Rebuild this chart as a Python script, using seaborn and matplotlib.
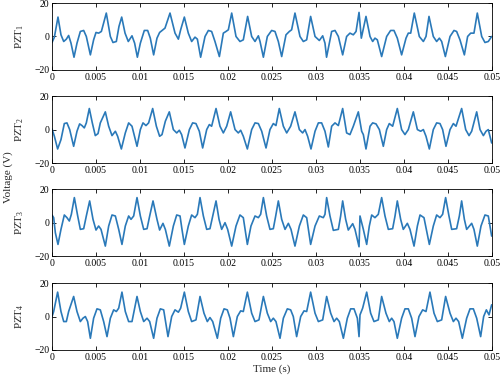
import numpy as np
import pandas as pd
import matplotlib
matplotlib.use("Agg")
import matplotlib.pyplot as plt
import seaborn as sns

# ---- data (time in ms, voltage in V) ----
t1 = [0.00,0.27,0.68,1.02,1.33,1.63,1.89,2.16,2.50,2.84,3.22,3.60,3.90,4.36,4.73,5.00,5.30,5.61,6.17,6.63,6.93,7.31,7.61,7.92,8.30,8.67,9.09,9.39,9.70,10.04,10.49,10.87,11.17,11.55,11.93,12.23,
      12.84,13.41,13.98,14.36,14.62,15.04,15.49,15.87,16.25,16.52,16.89,17.39,17.77,18.14,18.52,19.02,19.47,19.77,20.04,20.42,20.91,21.36,21.74,22.23,22.69,23.07,23.45,23.64,24.02,24.47,24.96,25.34,25.72,26.10,26.59,26.97,27.23,27.61,28.18,28.56,28.94,29.39,29.89,30.38,30.76,31.02,31.20,
      31.78,32.16,32.54,33.03,33.48,33.86,34.24,34.55,34.89,35.15,35.68,36.14,36.44,36.70,36.97,37.46,38.03,38.48,38.86,39.24,39.73,40.23,40.49,40.76,41.17,41.74,42.20,42.50,42.84,43.33,43.71,44.02,44.28,44.70,45.23,45.68,45.98,46.36,46.86,47.23,47.58,47.95,48.33,48.83,49.20,49.58,49.96]
v1 = [-3.6,-0.4,11.6,1.0,-3.0,-1.6,0.6,-4.0,-12.4,-4.0,3.0,3.6,0.0,-11.0,-2.0,2.4,2.0,3.0,14.0,0.0,-3.6,-3.0,6.0,11.6,2.0,-3.0,0.4,-4.0,-12.4,-4.0,3.6,3.6,-1.0,-11.0,-1.0,2.4,
      5.0,14.0,2.0,-1.6,4.0,11.6,2.0,-3.0,-0.4,-1.6,-12.4,0.0,3.6,3.0,-3.0,-12.0,2.0,3.0,4.0,14.0,0.0,-3.0,-2.0,12.0,0.0,-3.0,0.4,-3.0,-12.4,0.0,3.6,3.0,-3.0,-12.0,1.0,3.0,4.0,14.0,0.0,-3.0,-2.0,12.0,0.0,-2.4,0.4,-4.0,-12.4,
      3.0,3.6,0.0,-11.0,0.0,2.0,1.0,3.0,14.4,-1.0,12.0,0.0,-3.0,-1.0,-2.0,-12.0,0.0,3.6,3.6,-1.0,-11.0,-1.0,2.0,2.0,14.0,0.0,-3.0,0.0,12.0,0.0,-3.0,-1.0,-3.0,-12.0,0.0,3.6,3.0,-2.0,-11.0,0.0,2.0,2.0,14.0,0.0,-3.6,-3.0,0.0]

t2 = [0.00,0.27,0.64,1.02,1.40,1.70,2.01,2.46,2.84,3.14,3.41,3.67,3.90,4.24,4.58,4.92,5.23,5.49,6.06,6.44,6.82,7.20,7.46,7.88,8.33,8.71,9.09,9.66,10.04,10.34,10.68,10.98,11.44,11.86,12.23,12.50,12.88,
      13.33,13.79,14.17,14.47,14.73,15.11,15.61,15.98,16.36,16.74,17.12,17.58,17.88,18.14,18.64,19.09,19.47,19.85,20.30,20.80,21.17,21.44,21.74,22.20,22.69,23.07,23.45,23.83,24.32,24.77,25.15,25.45,25.83,26.29,26.67,27.12,27.61,28.11,28.48,28.75,29.05,29.43,29.89,30.27,30.64,31.02,31.40,
      31.78,32.16,32.54,33.03,33.48,33.86,34.24,34.81,35.19,35.38,35.68,36.14,36.44,36.82,37.20,37.65,38.03,38.33,38.71,39.24,39.73,40.11,40.49,41.06,41.52,41.89,42.20,42.50,42.88,43.33,43.71,44.09,44.39,44.77,45.23,45.61,45.91,46.55,47.01,47.39,47.69,48.26,48.64,49.02,49.32,49.58,49.96]
v2 = [0.4,-4.0,-11.6,-6.0,3.6,4.0,0.0,-10.0,-1.0,3.4,2.4,1.0,4.0,12.6,4.0,-3.6,-2.4,4.0,10.6,2.0,-3.6,-1.0,-4.0,-11.6,-2.0,4.0,2.0,-10.0,0.0,4.0,2.4,4.0,12.6,2.0,-4.0,-3.0,5.0,
      10.6,0.0,-2.0,-0.4,-3.0,-11.0,0.0,4.0,3.6,-1.0,-11.0,0.0,3.0,2.0,12.6,2.0,-2.0,2.0,10.6,0.0,-2.0,-0.4,-4.0,-11.6,0.0,4.0,3.6,-1.0,-11.0,0.0,3.6,2.4,12.6,2.0,-2.0,2.0,10.6,0.0,-2.0,0.0,-4.0,-11.6,-1.0,4.0,4.0,-1.0,-10.4,
      2.0,4.0,2.4,12.6,-2.0,-3.0,2.0,10.6,-1.0,-3.0,-11.6,2.0,4.0,3.4,0.0,-10.0,0.0,3.6,2.0,12.6,0.0,-3.0,0.0,10.6,0.0,-1.0,0.0,-4.0,-11.6,0.0,4.0,3.6,0.0,-10.0,0.0,3.6,2.0,12.6,0.0,-3.6,-1.0,10.6,0.0,-3.6,-1.0,0.0,-8.0]

t3 = [0.00,0.19,0.38,0.68,1.02,1.40,1.70,1.97,2.20,2.54,2.92,3.22,3.60,3.90,4.28,4.66,5.00,5.30,5.57,6.06,6.44,6.82,7.20,7.58,7.95,8.33,8.71,8.98,9.28,9.66,10.04,10.42,10.80,11.10,11.48,11.93,12.23,12.61,12.88,
      13.33,13.79,14.17,14.55,14.77,15.04,15.49,15.87,16.25,16.52,16.82,17.20,17.58,17.95,18.26,18.64,18.98,19.28,19.66,19.96,20.42,20.91,21.36,21.74,22.20,22.61,23.07,23.45,23.71,24.02,24.39,24.77,25.15,25.42,25.72,26.10,26.48,26.86,27.16,27.61,28.11,28.56,28.94,29.39,29.89,30.38,30.83,31.02,31.21,
      31.59,31.97,32.54,32.80,33.03,33.37,33.67,34.17,34.43,34.89,35.00,35.38,35.76,36.06,36.33,36.70,37.08,37.46,37.84,38.22,38.71,38.98,39.24,39.62,39.92,40.38,40.68,41.14,41.52,41.82,42.27,42.88,43.33,43.71,44.09,44.39,44.73,45.11,45.42,45.98,46.29,46.55,46.86,47.12,47.69,47.95,48.33,48.75,49.20,49.58,49.96]
v3 = [4.6,3.0,-6.0,-13.0,-4.0,4.6,3.0,1.0,5.0,15.0,4.0,-4.0,-3.6,4.0,13.0,2.0,-4.4,-2.0,-4.0,-14.0,-2.0,4.6,4.0,-4.0,-13.0,-2.0,4.0,2.0,4.0,15.0,4.0,-4.0,-3.6,4.0,13.0,2.0,-4.4,-0.4,-4.0,
      -14.0,-2.0,4.6,4.0,-4.0,-13.0,-2.0,4.6,3.0,5.0,15.0,4.0,-4.0,-3.6,4.0,13.0,2.0,-4.0,0.0,-4.0,-14.0,-2.0,4.6,3.0,-13.0,-2.0,4.0,3.0,5.0,15.0,4.0,-4.0,-3.6,4.0,13.0,2.0,-4.0,-0.4,-4.0,-14.0,-2.0,4.6,3.0,-13.0,-2.0,4.0,3.0,5.0,15.0,
      4.0,-4.6,-4.0,4.0,13.0,2.0,-4.4,-0.6,-4.0,-14.4,4.0,-4.0,-13.0,-2.0,4.6,3.0,5.0,15.0,4.0,-4.0,-3.6,4.0,13.0,2.0,-4.0,-0.4,-4.0,-14.0,-2.0,4.6,3.0,-13.0,-2.0,4.6,3.0,5.0,15.0,4.0,-4.0,-3.6,4.0,13.0,2.0,-4.0,-0.4,-4.0,-14.0,-2.0,4.6,4.0,-8.0]

t4 = [0.00,0.19,0.64,1.02,1.33,1.63,1.89,2.46,2.84,3.22,3.52,3.79,4.05,4.36,4.73,5.11,5.49,5.87,6.25,6.63,7.01,7.31,7.58,7.95,8.33,8.71,9.09,9.66,10.04,10.42,10.80,11.10,11.55,11.93,12.31,12.69,13.18,
      13.60,13.98,14.36,14.62,15.04,15.49,15.87,16.36,16.82,17.27,17.65,17.95,18.26,18.79,19.17,19.55,19.92,20.23,20.61,21.06,21.44,21.74,22.20,22.69,23.07,23.52,24.02,24.47,24.85,25.15,25.45,25.91,26.29,26.74,27.12,27.42,27.80,28.26,28.64,28.94,29.39,29.89,30.27,30.76,31.21,
      31.67,32.05,32.35,32.65,33.11,33.56,33.94,34.32,34.70,34.89,35.00,35.30,35.76,36.21,36.59,37.08,37.46,37.95,38.33,38.60,38.86,39.24,39.73,40.11,40.49,40.87,41.25,41.70,42.12,42.50,42.95,43.41,43.79,44.28,44.73,45.23,45.61,45.91,46.21,46.63,47.12,47.50,47.88,48.26,48.71,49.05,49.36,49.66,49.96]
v4 = [0.0,3.0,14.6,3.0,-3.0,-3.0,3.0,12.0,3.0,-3.0,-1.0,0.0,-3.0,-13.0,-1.0,4.6,4.0,-3.0,-12.0,-1.0,4.0,3.0,5.0,14.6,3.0,-3.0,-3.0,12.0,3.0,-3.0,-1.0,-3.0,-13.0,-1.0,4.6,4.0,-12.0,
      0.0,4.0,2.6,5.0,14.6,3.0,-3.0,-2.0,12.0,2.0,-3.0,-0.6,-3.0,-13.0,-1.0,4.6,4.0,-1.0,-12.0,0.0,3.4,3.0,14.6,2.0,-3.0,-2.0,12.0,2.0,-3.0,-1.0,-3.0,-13.0,-1.0,4.6,4.0,0.0,-12.0,0.0,3.4,3.0,14.6,2.0,-3.0,-2.0,12.0,
      2.0,-3.0,-1.0,-3.0,-13.0,-1.0,4.6,4.6,-1.0,-12.0,1.0,5.0,14.6,2.0,-3.0,-2.0,12.0,2.0,-3.0,-1.0,-3.0,-13.0,-1.0,4.6,4.6,-1.0,-12.0,0.0,4.0,3.0,14.6,2.0,-3.0,-2.0,12.0,2.0,-3.0,-1.0,-3.0,-13.0,-1.0,4.6,4.6,-1.0,-12.0,0.0,4.0,1.0,7.0]

labels = ["PZT$_1$", "PZT$_2$", "PZT$_3$", "PZT$_4$"]
xticks = [0, 0.005, 0.01, 0.015, 0.02, 0.025, 0.03, 0.035, 0.04, 0.045, 0.05]
xtick_labels = ["0", "0.005", "0.01", "0.015", "0.02", "0.025", "0.03", "0.035", "0.04", "0.045", "0.05"]
yticks = [-20, 0, 20]
ytick_labels = ["\u221220", "0", "20"]

sns.set_style("ticks")
plt.rcParams["font.family"] = ["Liberation Serif", "DejaVu Serif"]
plt.rcParams["mathtext.fontset"] = "custom"
plt.rcParams["mathtext.rm"] = "Liberation Serif"
plt.rcParams["mathtext.it"] = "Liberation Serif:italic"

fig = plt.figure(figsize=(5.0, 3.8), dpi=100)
series = [(t1, v1), (t2, v2), (t3, v3), (t4, v4)]
bottoms = [0.816, 0.571, 0.326, 0.079]
color = "#2a79b9"
for i, ((t, v), lab) in enumerate(zip(series, labels)):
    ax = fig.add_axes([0.104, bottoms[i], 0.88, 0.176])
    df = pd.DataFrame({"t": np.asarray(t) / 1000.0, "v": v})
    sns.lineplot(data=df, x="t", y="v", ax=ax, color=color, linewidth=1.2,
                 estimator=None, sort=False, solid_joinstyle="round", solid_capstyle="round")
    ax.set_xlim(0, 0.05)
    ax.set_ylim(-20, 20)
    ax.set_xticks(xticks)
    ax.set_xticklabels(xtick_labels)
    ax.set_yticks(yticks)
    ax.set_yticklabels(ytick_labels)
    ax.tick_params(direction="in", top=True, right=True, length=3, width=0.6, labelsize=7, pad=2, colors="black")
    for s in ax.spines.values():
        s.set_visible(True)
        s.set_linewidth(0.6)
        s.set_color("black")
    ax.set_ylabel(lab, fontsize=8)
    ax.yaxis.set_label_coords(-0.058, 0.5)
    ax.set_xlabel("")
    if i == 3:
        ax.set_xlabel("Time (s)", fontsize=8, labelpad=2)

fig.text(0.016, 0.534, "Voltage (V)", rotation=90, ha="center", va="center", fontsize=8)
fig.savefig("out.png", dpi=100)
